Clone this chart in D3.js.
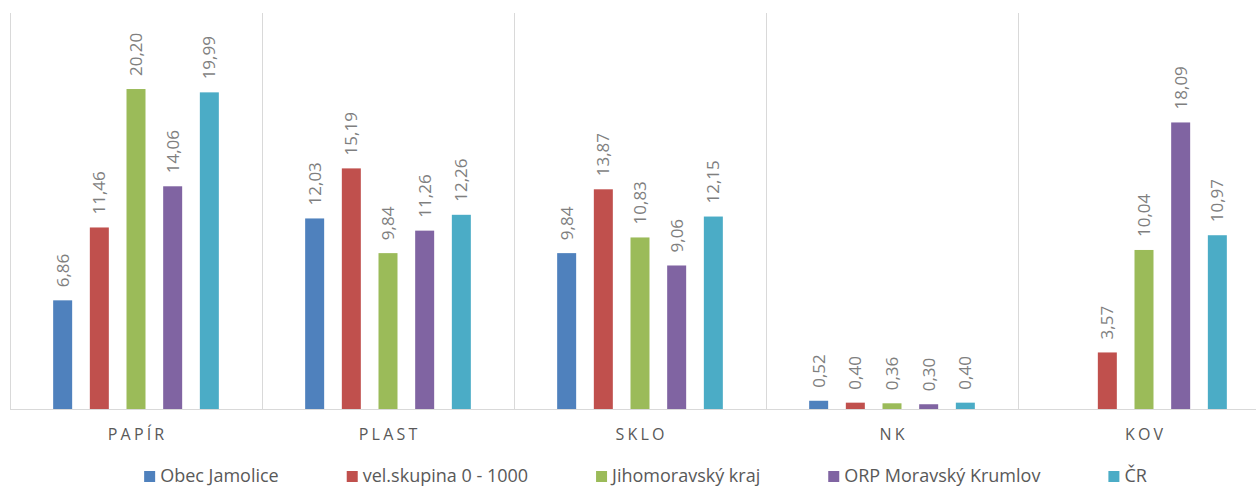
<!DOCTYPE html>
<html>
<head>
<meta charset="utf-8">
<script src="https://cdn.jsdelivr.net/npm/d3@7/dist/d3.min.js"></script>
<style>
  html, body { margin: 0; padding: 0; background: #fff; }
  svg { display: block; }
  text { font-family: "Open Sans", "DejaVu Sans", sans-serif; }
</style>
</head>
<body>
<svg id="chart" width="1256" height="486"></svg>
<script>
const categories = ["PAPÍR", "PLAST", "SKLO", "NK", "KOV"];
const seriesNames = ["Obec Jamolice", "vel.skupina 0 - 1000", "Jihomoravský kraj", "ORP Moravský Krumlov", "ČR"];
const obecJamolice = [6.86, 12.03, 9.84, 0.52, null];
const velSkupina = [11.46, 15.19, 13.87, 0.40, 3.57];
const jihomoravsky = [20.20, 9.84, 10.83, 0.36, 10.04];
const orpKrumlov = [14.06, 11.26, 9.06, 0.30, 18.09];
const cr = [19.99, 12.26, 12.15, 0.40, 10.97];
const colors = ["#4f81bd", "#c0504d", "#9bbb59", "#8064a2", "#4bacc6"];
const yMax = 25;

const seriesValues = [obecJamolice, velSkupina, jihomoravsky, orpKrumlov, cr];

const svg = d3.select("#chart");
const plot = { left: 10, right: 1270, top: 13, bottom: 409 };

const x0 = d3.scaleBand().domain(categories).range([plot.left, plot.right]).padding(0);
const x1 = d3.scaleBand().domain(seriesNames).range([0, x0.bandwidth()])
  .paddingInner(0.482).paddingOuter(1.177);
const y = d3.scaleLinear().domain([0, yMax]).range([plot.bottom, plot.top]);

// vertical separators
const seps = categories.map(c => x0(c)).concat([plot.right]);
svg.append("g").selectAll("line").data(seps).join("line")
  .attr("x1", d => d + 0.5).attr("x2", d => d + 0.5)
  .attr("y1", plot.top).attr("y2", plot.bottom)
  .attr("stroke", "#d9d9d9").attr("stroke-width", 1);

// bars
const rows = [];
categories.forEach((c, ci) => {
  seriesNames.forEach((s, si) => {
    const v = seriesValues[si][ci];
    if (v !== null && v !== undefined) rows.push({ c, s, si, v });
  });
});

svg.append("g").selectAll("rect").data(rows).join("rect")
  .attr("x", d => x0(d.c) + x1(d.s))
  .attr("y", d => y(d.v))
  .attr("width", x1.bandwidth())
  .attr("height", d => y(0) - y(d.v))
  .attr("fill", d => colors[d.si]);

// baseline
svg.append("line")
  .attr("x1", plot.left).attr("x2", plot.right)
  .attr("y1", plot.bottom + 0.5).attr("y2", plot.bottom + 0.5)
  .attr("stroke", "#d9d9d9").attr("stroke-width", 1);

// data labels
const fmt = v => v.toFixed(2).replace(".", ",");
svg.append("g").selectAll("text").data(rows).join("text")
  .attr("transform", d => {
    const cx = x0(d.c) + x1(d.s) + x1.bandwidth() / 2;
    const ty = y(d.v) - 13;
    return `translate(${cx},${ty}) rotate(-90)`;
  })
  .attr("dy", "0.36em")
  .attr("text-anchor", "start")
  .attr("font-size", "17px")
  .attr("fill", "#7f7f7f")
  .text(d => fmt(d.v));

// category labels
const ls = 3.2;
svg.append("g").selectAll("text").data(categories).join("text")
  .attr("x", d => x0(d) + x0.bandwidth() / 2 + ls / 2)
  .attr("y", 440)
  .attr("text-anchor", "middle")
  .attr("font-size", "16px")
  .attr("letter-spacing", ls + "px")
  .attr("fill", "#595959")
  .text(d => d);

// legend
const legend = svg.append("g");
const sw = 11, gapText = 5, gapItem = 68, legY = 482;
const items = legend.selectAll("g").data(seriesNames).join("g");
items.append("rect")
  .attr("width", sw).attr("height", sw)
  .attr("y", legY - sw)
  .attr("fill", (d, i) => colors[i]);
items.append("text")
  .attr("x", sw + gapText)
  .attr("y", legY)
  .attr("font-size", "18px")
  .attr("fill", "#595959")
  .text(d => d);
const widths = [];
items.each(function () { widths.push(d3.select(this).select("text").node().getComputedTextLength()); });
const total = widths.reduce((a, w) => a + sw + gapText + w, 0) + gapItem * (widths.length - 1);
let cx = 645.5 - total / 2;
items.attr("transform", (d, i) => {
  const t = `translate(${cx},0)`;
  cx += sw + gapText + widths[i] + gapItem;
  return t;
});
</script>
</body>
</html>
